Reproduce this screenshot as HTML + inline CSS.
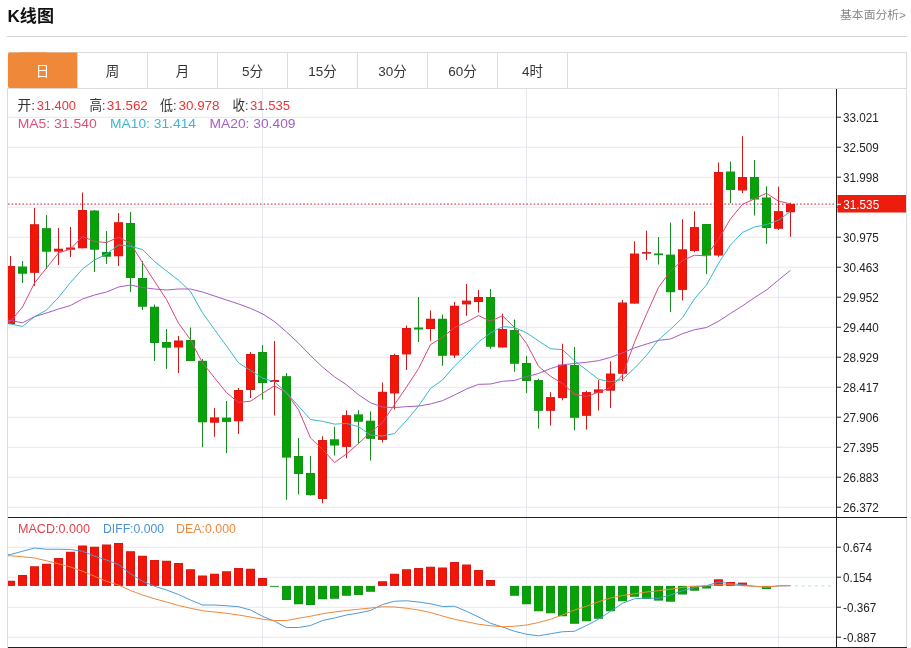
<!DOCTYPE html>
<html lang="zh-CN"><head><meta charset="utf-8"><title>K线图</title>
<style>html,body{margin:0;padding:0;background:#fff}svg{display:block}text{font-family:"Liberation Sans","Noto Sans CJK SC",sans-serif}</style></head><body>
<svg width="911" height="648" viewBox="0 0 911 648">
<rect width="911" height="648" fill="#fff"/>
<text x="7.5" y="22" font-size="17" font-weight="bold" fill="#111" textLength="46.5" lengthAdjust="spacingAndGlyphs">K线图</text>
<text x="840" y="19.2" font-size="11.4" fill="#888" textLength="66" lengthAdjust="spacingAndGlyphs">基本面分析&gt;</text>
<rect x="7" y="36" width="900" height="1" fill="#d4d4d4"/>
<rect x="8" y="52" width="899" height="1" fill="#dcdcdc"/>
<rect x="8" y="88" width="899" height="1" fill="#dcdcdc"/>
<rect x="7" y="88" width="1" height="560" fill="#dcdcdc"/>
<rect x="906" y="52" width="1" height="596" fill="#dcdcdc"/>
<rect x="7.9" y="52.5" width="40" height="35.6" rx="2.2" fill="#f0883a"/>
<rect x="20" y="52.5" width="57.3" height="35.6" fill="#f0883a"/>
<rect x="77" y="53" width="1" height="35" fill="#dcdcdc"/>
<rect x="147" y="53" width="1" height="35" fill="#dcdcdc"/>
<rect x="217" y="53" width="1" height="35" fill="#dcdcdc"/>
<rect x="287" y="53" width="1" height="35" fill="#dcdcdc"/>
<rect x="357" y="53" width="1" height="35" fill="#dcdcdc"/>
<rect x="427" y="53" width="1" height="35" fill="#dcdcdc"/>
<rect x="497" y="53" width="1" height="35" fill="#dcdcdc"/>
<rect x="567" y="53" width="1" height="35" fill="#dcdcdc"/>
<text x="42.5" y="75.6" font-size="13.5" text-anchor="middle" fill="#fff">日</text>
<text x="112.5" y="75.6" font-size="13.5" text-anchor="middle" fill="#333">周</text>
<text x="182.5" y="75.6" font-size="13.5" text-anchor="middle" fill="#333">月</text>
<text x="252.5" y="75.6" font-size="13.5" text-anchor="middle" fill="#333">5分</text>
<text x="322.5" y="75.6" font-size="13.5" text-anchor="middle" fill="#333">15分</text>
<text x="392.5" y="75.6" font-size="13.5" text-anchor="middle" fill="#333">30分</text>
<text x="462.5" y="75.6" font-size="13.5" text-anchor="middle" fill="#333">60分</text>
<text x="532.5" y="75.6" font-size="13.5" text-anchor="middle" fill="#333">4时</text>
<rect x="8" y="116.8" width="828" height="0.8" fill="#dfe2e6"/>
<rect x="8" y="146.8" width="828" height="0.8" fill="#dfe2e6"/>
<rect x="8" y="176.8" width="828" height="0.8" fill="#dfe2e6"/>
<rect x="8" y="206.8" width="828" height="0.8" fill="#dfe2e6"/>
<rect x="8" y="236.8" width="828" height="0.8" fill="#dfe2e6"/>
<rect x="8" y="266.8" width="828" height="0.8" fill="#dfe2e6"/>
<rect x="8" y="296.8" width="828" height="0.8" fill="#dfe2e6"/>
<rect x="8" y="326.8" width="828" height="0.8" fill="#dfe2e6"/>
<rect x="8" y="356.8" width="828" height="0.8" fill="#dfe2e6"/>
<rect x="8" y="386.8" width="828" height="0.8" fill="#dfe2e6"/>
<rect x="8" y="416.8" width="828" height="0.8" fill="#dfe2e6"/>
<rect x="8" y="446.8" width="828" height="0.8" fill="#dfe2e6"/>
<rect x="8" y="476.8" width="828" height="0.8" fill="#dfe2e6"/>
<rect x="8" y="506.8" width="828" height="0.8" fill="#dfe2e6"/>
<rect x="8" y="546.8" width="828" height="0.8" fill="#dfe2e6"/>
<rect x="8" y="576.8" width="828" height="0.8" fill="#dfe2e6"/>
<rect x="8" y="606.8" width="828" height="0.8" fill="#dfe2e6"/>
<rect x="8" y="636.8" width="828" height="0.8" fill="#dfe2e6"/>
<rect x="262.1" y="89" width="0.8" height="558" fill="#e0e4ec"/>
<rect x="526.1" y="89" width="0.8" height="558" fill="#e0e4ec"/>
<rect x="778.1" y="89" width="0.8" height="558" fill="#e0e4ec"/>
<text x="17.5" y="109.8" font-size="13.5" fill="#333" textLength="17.5" lengthAdjust="spacingAndGlyphs">开:</text>
<text x="36.7" y="109.8" font-size="13.5" fill="#e33" textLength="39.3" lengthAdjust="spacingAndGlyphs">31.400</text>
<text x="89.4" y="109.8" font-size="13.5" fill="#333" textLength="16" lengthAdjust="spacingAndGlyphs">高:</text>
<text x="106.8" y="109.8" font-size="13.5" fill="#e33" textLength="41" lengthAdjust="spacingAndGlyphs">31.562</text>
<text x="160" y="109.8" font-size="13.5" fill="#333" textLength="16.5" lengthAdjust="spacingAndGlyphs">低:</text>
<text x="178.5" y="109.8" font-size="13.5" fill="#e33" textLength="41" lengthAdjust="spacingAndGlyphs">30.978</text>
<text x="232.5" y="109.8" font-size="13.5" fill="#333" textLength="16" lengthAdjust="spacingAndGlyphs">收:</text>
<text x="250" y="109.8" font-size="13.5" fill="#e33" textLength="40" lengthAdjust="spacingAndGlyphs">31.535</text>
<text x="17.7" y="128.3" font-size="13.5" fill="#e0507a" textLength="79" lengthAdjust="spacingAndGlyphs">MA5: 31.540</text>
<text x="110" y="128.3" font-size="13.5" fill="#3bb8d0" textLength="86" lengthAdjust="spacingAndGlyphs">MA10: 31.414</text>
<text x="209.5" y="128.3" font-size="13.5" fill="#a35fc5" textLength="86" lengthAdjust="spacingAndGlyphs">MA20: 30.409</text>
<text x="18" y="532.8" font-size="13" fill="#e0434b" textLength="72" lengthAdjust="spacingAndGlyphs">MACD:0.000</text>
<text x="103" y="532.8" font-size="13" fill="#4a90d9" textLength="61" lengthAdjust="spacingAndGlyphs">DIFF:0.000</text>
<text x="176" y="532.8" font-size="13" fill="#f0883a" textLength="60" lengthAdjust="spacingAndGlyphs">DEA:0.000</text>
<defs><clipPath id="c"><rect x="8" y="89" width="828" height="558"/></clipPath></defs>
<g clip-path="url(#c)">
<line x1="8" y1="204.1" x2="836" y2="204.1" stroke="#d24e66" stroke-width="1.4" stroke-dasharray="1.6 2"/>
<rect x="10" y="256" width="1" height="68" fill="#d01818"/>
<rect x="6" y="266" width="9" height="58" fill="#d01818"/>
<rect x="6.6" y="266.6" width="7.8" height="56.8" fill="#f21608"/>
<rect x="22" y="261" width="1" height="22" fill="#168a1c"/>
<rect x="18" y="266.5" width="9" height="7.2" fill="#168a1c"/>
<rect x="18.6" y="267.1" width="7.8" height="6" fill="#08a208"/>
<rect x="34" y="208" width="1" height="78" fill="#d01818"/>
<rect x="30" y="224.25" width="9" height="48.55" fill="#d01818"/>
<rect x="30.6" y="224.85" width="7.8" height="47.35" fill="#f21608"/>
<rect x="46" y="215" width="1" height="54" fill="#168a1c"/>
<rect x="42" y="228.2" width="9" height="23.5" fill="#168a1c"/>
<rect x="42.6" y="228.8" width="7.8" height="22.3" fill="#08a208"/>
<rect x="58" y="228" width="1" height="37" fill="#d01818"/>
<rect x="54" y="248.7" width="9" height="2.9" fill="#d01818"/>
<rect x="54.6" y="249.3" width="7.8" height="1.7" fill="#f21608"/>
<rect x="70" y="227" width="1" height="30" fill="#d01818"/>
<rect x="66" y="247.5" width="9" height="2.2" fill="#d01818"/>
<rect x="66.6" y="248.1" width="7.8" height="1" fill="#f21608"/>
<rect x="82" y="192.5" width="1" height="55.8" fill="#d01818"/>
<rect x="78" y="210" width="9" height="38.3" fill="#d01818"/>
<rect x="78.6" y="210.6" width="7.8" height="37.1" fill="#f21608"/>
<rect x="94" y="210" width="1" height="62" fill="#168a1c"/>
<rect x="90" y="210.5" width="9" height="39.2" fill="#168a1c"/>
<rect x="90.6" y="211.1" width="7.8" height="38" fill="#08a208"/>
<rect x="106" y="231" width="1" height="33" fill="#168a1c"/>
<rect x="102" y="252" width="9" height="4.7" fill="#168a1c"/>
<rect x="102.6" y="252.6" width="7.8" height="3.5" fill="#08a208"/>
<rect x="118" y="213" width="1" height="53" fill="#d01818"/>
<rect x="114" y="222.2" width="9" height="34.1" fill="#d01818"/>
<rect x="114.6" y="222.8" width="7.8" height="32.9" fill="#f21608"/>
<rect x="130" y="212" width="1" height="80" fill="#168a1c"/>
<rect x="126" y="223" width="9" height="55" fill="#168a1c"/>
<rect x="126.6" y="223.6" width="7.8" height="53.8" fill="#08a208"/>
<rect x="142" y="261" width="1" height="49" fill="#168a1c"/>
<rect x="138" y="278" width="9" height="28.7" fill="#168a1c"/>
<rect x="138.6" y="278.6" width="7.8" height="27.5" fill="#08a208"/>
<rect x="154" y="304.5" width="1" height="56.5" fill="#168a1c"/>
<rect x="150" y="306.75" width="9" height="36.25" fill="#168a1c"/>
<rect x="150.6" y="307.35" width="7.8" height="35.05" fill="#08a208"/>
<rect x="166" y="329" width="1" height="40" fill="#168a1c"/>
<rect x="162" y="342" width="9" height="5.7" fill="#168a1c"/>
<rect x="162.6" y="342.6" width="7.8" height="4.5" fill="#08a208"/>
<rect x="178" y="336" width="1" height="37" fill="#d01818"/>
<rect x="174" y="340.5" width="9" height="7" fill="#d01818"/>
<rect x="174.6" y="341.1" width="7.8" height="5.8" fill="#f21608"/>
<rect x="190" y="327.5" width="1" height="33.5" fill="#168a1c"/>
<rect x="186" y="340" width="9" height="21" fill="#168a1c"/>
<rect x="186.6" y="340.6" width="7.8" height="19.8" fill="#08a208"/>
<rect x="202" y="359" width="1" height="88.3" fill="#168a1c"/>
<rect x="198" y="360.8" width="9" height="61.5" fill="#168a1c"/>
<rect x="198.6" y="361.4" width="7.8" height="60.3" fill="#08a208"/>
<rect x="214" y="408" width="1" height="28.8" fill="#d01818"/>
<rect x="210" y="417.4" width="9" height="5.3" fill="#d01818"/>
<rect x="210.6" y="418" width="7.8" height="4.1" fill="#f21608"/>
<rect x="226" y="401" width="1" height="52.1" fill="#168a1c"/>
<rect x="222" y="417.6" width="9" height="4.3" fill="#168a1c"/>
<rect x="222.6" y="418.2" width="7.8" height="3.1" fill="#08a208"/>
<rect x="238" y="388" width="1" height="45.9" fill="#d01818"/>
<rect x="234" y="390" width="9" height="31.3" fill="#d01818"/>
<rect x="234.6" y="390.6" width="7.8" height="30.1" fill="#f21608"/>
<rect x="250" y="352" width="1" height="46" fill="#d01818"/>
<rect x="246" y="354" width="9" height="36" fill="#d01818"/>
<rect x="246.6" y="354.6" width="7.8" height="34.8" fill="#f21608"/>
<rect x="262" y="345" width="1" height="54.5" fill="#168a1c"/>
<rect x="258" y="352" width="9" height="31" fill="#168a1c"/>
<rect x="258.6" y="352.6" width="7.8" height="29.8" fill="#08a208"/>
<rect x="274" y="341" width="1" height="74.5" fill="#d01818"/>
<rect x="270" y="380" width="9" height="2" fill="#d01818"/>
<rect x="270.6" y="380.6" width="7.8" height="0.8" fill="#f21608"/>
<rect x="286" y="373" width="1" height="126.7" fill="#168a1c"/>
<rect x="282" y="376.2" width="9" height="81.4" fill="#168a1c"/>
<rect x="282.6" y="376.8" width="7.8" height="80.2" fill="#08a208"/>
<rect x="298" y="438" width="1" height="56.4" fill="#168a1c"/>
<rect x="294" y="456" width="9" height="18" fill="#168a1c"/>
<rect x="294.6" y="456.6" width="7.8" height="16.8" fill="#08a208"/>
<rect x="310" y="456" width="1" height="39.6" fill="#168a1c"/>
<rect x="306" y="473" width="9" height="22.1" fill="#168a1c"/>
<rect x="306.6" y="473.6" width="7.8" height="20.9" fill="#08a208"/>
<rect x="322" y="436.3" width="1" height="67" fill="#d01818"/>
<rect x="318" y="440" width="9" height="59" fill="#d01818"/>
<rect x="318.6" y="440.6" width="7.8" height="57.8" fill="#f21608"/>
<rect x="334" y="426.8" width="1" height="28.6" fill="#168a1c"/>
<rect x="330" y="439.3" width="9" height="6.2" fill="#168a1c"/>
<rect x="330.6" y="439.9" width="7.8" height="5" fill="#08a208"/>
<rect x="346" y="410.4" width="1" height="47.8" fill="#d01818"/>
<rect x="342" y="415.2" width="9" height="31.7" fill="#d01818"/>
<rect x="342.6" y="415.8" width="7.8" height="30.5" fill="#f21608"/>
<rect x="358" y="410" width="1" height="33.8" fill="#168a1c"/>
<rect x="354" y="414.4" width="9" height="7.3" fill="#168a1c"/>
<rect x="354.6" y="415" width="7.8" height="6.1" fill="#08a208"/>
<rect x="370" y="411.4" width="1" height="49.1" fill="#168a1c"/>
<rect x="366" y="420.7" width="9" height="18.1" fill="#168a1c"/>
<rect x="366.6" y="421.3" width="7.8" height="16.9" fill="#08a208"/>
<rect x="382" y="382.4" width="1" height="60.1" fill="#d01818"/>
<rect x="378" y="391.8" width="9" height="48.1" fill="#d01818"/>
<rect x="378.6" y="392.4" width="7.8" height="46.9" fill="#f21608"/>
<rect x="394" y="353.75" width="1" height="55.75" fill="#d01818"/>
<rect x="390" y="355" width="9" height="38.4" fill="#d01818"/>
<rect x="390.6" y="355.6" width="7.8" height="37.2" fill="#f21608"/>
<rect x="406" y="325.5" width="1" height="44.5" fill="#d01818"/>
<rect x="402" y="328" width="9" height="26.4" fill="#d01818"/>
<rect x="402.6" y="328.6" width="7.8" height="25.2" fill="#f21608"/>
<rect x="418" y="297" width="1" height="45" fill="#168a1c"/>
<rect x="414" y="327.5" width="9" height="2" fill="#168a1c"/>
<rect x="414.6" y="328.1" width="7.8" height="0.8" fill="#08a208"/>
<rect x="430" y="310.5" width="1" height="30.25" fill="#d01818"/>
<rect x="426" y="318.75" width="9" height="10.25" fill="#d01818"/>
<rect x="426.6" y="319.35" width="7.8" height="9.05" fill="#f21608"/>
<rect x="442" y="314.5" width="1" height="51.25" fill="#168a1c"/>
<rect x="438" y="318.75" width="9" height="37" fill="#168a1c"/>
<rect x="438.6" y="319.35" width="7.8" height="35.8" fill="#08a208"/>
<rect x="454" y="302" width="1" height="56" fill="#d01818"/>
<rect x="450" y="305.75" width="9" height="49.75" fill="#d01818"/>
<rect x="450.6" y="306.35" width="7.8" height="48.55" fill="#f21608"/>
<rect x="466" y="284" width="1" height="31.75" fill="#d01818"/>
<rect x="462" y="300.6" width="9" height="3.8" fill="#d01818"/>
<rect x="462.6" y="301.2" width="7.8" height="2.6" fill="#f21608"/>
<rect x="478" y="290" width="1" height="22.5" fill="#d01818"/>
<rect x="474" y="297" width="9" height="5" fill="#d01818"/>
<rect x="474.6" y="297.6" width="7.8" height="3.8" fill="#f21608"/>
<rect x="490" y="289" width="1" height="59.75" fill="#168a1c"/>
<rect x="486" y="297" width="9" height="49.75" fill="#168a1c"/>
<rect x="486.6" y="297.6" width="7.8" height="48.55" fill="#08a208"/>
<rect x="502" y="313.75" width="1" height="33.75" fill="#d01818"/>
<rect x="498" y="329" width="9" height="18.5" fill="#d01818"/>
<rect x="498.6" y="329.6" width="7.8" height="17.3" fill="#f21608"/>
<rect x="514" y="319.5" width="1" height="52.25" fill="#168a1c"/>
<rect x="510" y="330" width="9" height="33.75" fill="#168a1c"/>
<rect x="510.6" y="330.6" width="7.8" height="32.55" fill="#08a208"/>
<rect x="526" y="356" width="1" height="37" fill="#168a1c"/>
<rect x="522" y="363" width="9" height="18" fill="#168a1c"/>
<rect x="522.6" y="363.6" width="7.8" height="16.8" fill="#08a208"/>
<rect x="538" y="378.75" width="1" height="49.85" fill="#168a1c"/>
<rect x="534" y="380.1" width="9" height="30.7" fill="#168a1c"/>
<rect x="534.6" y="380.7" width="7.8" height="29.5" fill="#08a208"/>
<rect x="550" y="392.2" width="1" height="33.4" fill="#d01818"/>
<rect x="546" y="397.1" width="9" height="13.7" fill="#d01818"/>
<rect x="546.6" y="397.7" width="7.8" height="12.5" fill="#f21608"/>
<rect x="562" y="343.8" width="1" height="56.5" fill="#d01818"/>
<rect x="558" y="364.6" width="9" height="33.5" fill="#d01818"/>
<rect x="558.6" y="365.2" width="7.8" height="32.3" fill="#f21608"/>
<rect x="574" y="347" width="1" height="83.4" fill="#168a1c"/>
<rect x="570" y="365" width="9" height="52.8" fill="#168a1c"/>
<rect x="570.6" y="365.6" width="7.8" height="51.6" fill="#08a208"/>
<rect x="586" y="390.75" width="1" height="38.85" fill="#d01818"/>
<rect x="582" y="392.1" width="9" height="23.7" fill="#d01818"/>
<rect x="582.6" y="392.7" width="7.8" height="22.5" fill="#f21608"/>
<rect x="598" y="380.1" width="1" height="30.4" fill="#d01818"/>
<rect x="594" y="389.4" width="9" height="3.4" fill="#d01818"/>
<rect x="594.6" y="390" width="7.8" height="2.2" fill="#f21608"/>
<rect x="610" y="361.3" width="1" height="46.7" fill="#d01818"/>
<rect x="606" y="373.5" width="9" height="17.2" fill="#d01818"/>
<rect x="606.6" y="374.1" width="7.8" height="16" fill="#f21608"/>
<rect x="622" y="300" width="1" height="81.25" fill="#d01818"/>
<rect x="618" y="302.5" width="9" height="71.25" fill="#d01818"/>
<rect x="618.6" y="303.1" width="7.8" height="70.05" fill="#f21608"/>
<rect x="634" y="241.25" width="1" height="62.35" fill="#d01818"/>
<rect x="630" y="253.5" width="9" height="50.1" fill="#d01818"/>
<rect x="630.6" y="254.1" width="7.8" height="48.9" fill="#f21608"/>
<rect x="646" y="230.75" width="1" height="29.25" fill="#d01818"/>
<rect x="642" y="252.1" width="9" height="1.6" fill="#d01818"/>
<rect x="658" y="237" width="1" height="27.5" fill="#168a1c"/>
<rect x="654" y="253.5" width="9" height="1.7" fill="#168a1c"/>
<rect x="654.6" y="254.1" width="7.8" height="0.5" fill="#08a208"/>
<rect x="670" y="222.5" width="1" height="89.4" fill="#168a1c"/>
<rect x="666" y="254.6" width="9" height="37.6" fill="#168a1c"/>
<rect x="666.6" y="255.2" width="7.8" height="36.4" fill="#08a208"/>
<rect x="682" y="219.25" width="1" height="81.15" fill="#d01818"/>
<rect x="678" y="249.3" width="9" height="40.6" fill="#d01818"/>
<rect x="678.6" y="249.9" width="7.8" height="39.4" fill="#f21608"/>
<rect x="694" y="211.25" width="1" height="40.95" fill="#d01818"/>
<rect x="690" y="227.1" width="9" height="23.8" fill="#d01818"/>
<rect x="690.6" y="227.7" width="7.8" height="22.6" fill="#f21608"/>
<rect x="706" y="224" width="1" height="50" fill="#168a1c"/>
<rect x="702" y="224" width="9" height="31.6" fill="#168a1c"/>
<rect x="702.6" y="224.6" width="7.8" height="30.4" fill="#08a208"/>
<rect x="718" y="162.5" width="1" height="94.25" fill="#d01818"/>
<rect x="714" y="172" width="9" height="83.5" fill="#d01818"/>
<rect x="714.6" y="172.6" width="7.8" height="82.3" fill="#f21608"/>
<rect x="730" y="161.5" width="1" height="41.75" fill="#168a1c"/>
<rect x="726" y="171.5" width="9" height="18.5" fill="#168a1c"/>
<rect x="726.6" y="172.1" width="7.8" height="17.3" fill="#08a208"/>
<rect x="742" y="136.25" width="1" height="56.75" fill="#d01818"/>
<rect x="738" y="177" width="9" height="13.5" fill="#d01818"/>
<rect x="738.6" y="177.6" width="7.8" height="12.3" fill="#f21608"/>
<rect x="754" y="160" width="1" height="55.5" fill="#168a1c"/>
<rect x="750" y="177" width="9" height="22.5" fill="#168a1c"/>
<rect x="750.6" y="177.6" width="7.8" height="21.3" fill="#08a208"/>
<rect x="766" y="186.25" width="1" height="57.5" fill="#168a1c"/>
<rect x="762" y="197.5" width="9" height="30.5" fill="#168a1c"/>
<rect x="762.6" y="198.1" width="7.8" height="29.3" fill="#08a208"/>
<rect x="778" y="186.75" width="1" height="43.25" fill="#d01818"/>
<rect x="774" y="211.2" width="9" height="17.55" fill="#d01818"/>
<rect x="774.6" y="211.8" width="7.8" height="16.35" fill="#f21608"/>
<rect x="790" y="202.6" width="1" height="34.2" fill="#d01818"/>
<rect x="786" y="203.9" width="9" height="8.4" fill="#d01818"/>
<rect x="786.6" y="204.5" width="7.8" height="7.2" fill="#f21608"/>
<polyline fill="none" stroke="#e0457b" stroke-width="1" stroke-linejoin="round" points="-1.5,322.5 10.5,321.50 22.5,307.00 34.5,283.00 46.5,268.00 58.5,252.87 70.5,249.17 82.5,236.43 94.5,241.52 106.5,242.52 118.5,237.22 130.5,243.32 142.5,262.66 154.5,281.32 166.5,299.52 178.5,323.18 190.5,339.78 202.5,362.90 214.5,377.78 226.5,392.62 238.5,402.52 250.5,401.12 262.5,393.26 274.5,385.78 286.5,392.92 298.5,409.72 310.5,437.94 322.5,449.34 334.5,462.44 346.5,453.96 358.5,443.50 370.5,432.24 382.5,422.60 394.5,404.50 406.5,387.06 418.5,368.62 430.5,344.61 442.5,337.40 454.5,327.55 466.5,322.07 478.5,315.57 490.5,321.17 502.5,315.82 514.5,327.42 526.5,343.50 538.5,366.26 550.5,376.33 562.5,383.45 574.5,394.26 586.5,396.48 598.5,392.20 610.5,387.48 622.5,375.06 634.5,342.20 646.5,314.20 658.5,287.36 670.5,271.10 682.5,260.46 694.5,255.18 706.5,255.88 718.5,239.24 730.5,218.80 742.5,204.34 754.5,198.82 766.5,193.30 778.5,201.14 790.5,203.92"/>
<polyline fill="none" stroke="#35b8d0" stroke-width="1" stroke-linejoin="round" points="-1.5,323 10.5,324.00 22.5,326.50 34.5,316.70 46.5,310.00 58.5,297.50 70.5,282.50 82.5,269.00 94.5,260.00 106.5,254.00 118.5,245.04 130.5,246.24 142.5,249.54 154.5,261.42 166.5,271.02 178.5,280.20 190.5,291.55 202.5,312.78 214.5,329.55 226.5,346.07 238.5,362.85 250.5,370.45 262.5,378.08 274.5,381.78 286.5,392.77 298.5,406.12 310.5,419.53 322.5,421.30 334.5,424.11 346.5,423.44 358.5,426.61 370.5,435.09 382.5,435.97 394.5,433.47 406.5,420.51 418.5,406.06 430.5,388.43 442.5,380.00 454.5,366.02 466.5,354.56 478.5,342.09 490.5,332.89 502.5,326.61 514.5,327.49 526.5,332.78 538.5,340.92 550.5,348.75 562.5,349.63 574.5,360.84 586.5,369.99 598.5,379.23 610.5,381.91 622.5,379.25 634.5,368.23 646.5,355.34 658.5,339.78 670.5,329.29 682.5,317.76 694.5,298.69 706.5,285.04 718.5,263.30 730.5,244.95 742.5,232.40 754.5,227.00 766.5,224.59 778.5,220.19 790.5,211.36"/>
<polyline fill="none" stroke="#a45cc4" stroke-width="1" stroke-linejoin="round" points="-1.5,319 10.5,320.50 22.5,322.80 34.5,316.70 46.5,313.00 58.5,309.00 70.5,305.50 82.5,299.00 94.5,295.00 106.5,292.00 118.5,287.00 130.5,285.00 142.5,287.50 154.5,289.00 166.5,290.00 178.5,289.00 190.5,289.00 202.5,292.00 214.5,296.00 226.5,300.00 238.5,303.95 250.5,308.35 262.5,313.81 274.5,321.60 286.5,331.89 298.5,343.16 310.5,355.54 322.5,367.04 334.5,376.83 346.5,384.75 358.5,394.73 370.5,402.77 382.5,407.02 394.5,407.62 406.5,406.64 418.5,406.09 430.5,403.98 442.5,400.65 454.5,395.07 466.5,389.00 478.5,384.35 490.5,383.99 502.5,381.29 514.5,380.48 526.5,376.65 538.5,373.49 550.5,368.59 562.5,364.82 574.5,363.43 586.5,362.28 598.5,360.66 610.5,357.40 622.5,352.93 634.5,347.86 646.5,344.06 658.5,340.35 670.5,339.02 682.5,333.70 694.5,329.76 706.5,327.51 718.5,321.26 730.5,313.43 742.5,305.83 754.5,297.62 766.5,289.97 778.5,279.99 790.5,270.32"/>
<line x1="795" y1="585.9" x2="835" y2="585.9" stroke="#a8dae6" stroke-width="0.9" stroke-dasharray="3 3.6"/>
<rect x="6" y="580.75" width="9" height="5.15" fill="#d01818"/>
<rect x="6.6" y="581.35" width="7.8" height="3.95" fill="#f21608"/>
<rect x="18" y="575" width="9" height="10.9" fill="#d01818"/>
<rect x="18.6" y="575.6" width="7.8" height="9.7" fill="#f21608"/>
<rect x="30" y="566.25" width="9" height="19.65" fill="#d01818"/>
<rect x="30.6" y="566.85" width="7.8" height="18.45" fill="#f21608"/>
<rect x="42" y="563.75" width="9" height="22.15" fill="#d01818"/>
<rect x="42.6" y="564.35" width="7.8" height="20.95" fill="#f21608"/>
<rect x="54" y="558" width="9" height="27.9" fill="#d01818"/>
<rect x="54.6" y="558.6" width="7.8" height="26.7" fill="#f21608"/>
<rect x="66" y="551.75" width="9" height="34.15" fill="#d01818"/>
<rect x="66.6" y="552.35" width="7.8" height="32.95" fill="#f21608"/>
<rect x="78" y="545.5" width="9" height="40.4" fill="#d01818"/>
<rect x="78.6" y="546.1" width="7.8" height="39.2" fill="#f21608"/>
<rect x="90" y="546.75" width="9" height="39.15" fill="#d01818"/>
<rect x="90.6" y="547.35" width="7.8" height="37.95" fill="#f21608"/>
<rect x="102" y="544.5" width="9" height="41.4" fill="#d01818"/>
<rect x="102.6" y="545.1" width="7.8" height="40.2" fill="#f21608"/>
<rect x="114" y="543" width="9" height="42.9" fill="#d01818"/>
<rect x="114.6" y="543.6" width="7.8" height="41.7" fill="#f21608"/>
<rect x="126" y="551.25" width="9" height="34.65" fill="#d01818"/>
<rect x="126.6" y="551.85" width="7.8" height="33.45" fill="#f21608"/>
<rect x="138" y="555.75" width="9" height="30.15" fill="#d01818"/>
<rect x="138.6" y="556.35" width="7.8" height="28.95" fill="#f21608"/>
<rect x="150" y="560" width="9" height="25.9" fill="#d01818"/>
<rect x="150.6" y="560.6" width="7.8" height="24.7" fill="#f21608"/>
<rect x="162" y="560.75" width="9" height="25.15" fill="#d01818"/>
<rect x="162.6" y="561.35" width="7.8" height="23.95" fill="#f21608"/>
<rect x="174" y="563" width="9" height="22.9" fill="#d01818"/>
<rect x="174.6" y="563.6" width="7.8" height="21.7" fill="#f21608"/>
<rect x="186" y="569.25" width="9" height="16.65" fill="#d01818"/>
<rect x="186.6" y="569.85" width="7.8" height="15.45" fill="#f21608"/>
<rect x="198" y="575.5" width="9" height="10.4" fill="#d01818"/>
<rect x="198.6" y="576.1" width="7.8" height="9.2" fill="#f21608"/>
<rect x="210" y="573.75" width="9" height="12.15" fill="#d01818"/>
<rect x="210.6" y="574.35" width="7.8" height="10.95" fill="#f21608"/>
<rect x="222" y="571.25" width="9" height="14.65" fill="#d01818"/>
<rect x="222.6" y="571.85" width="7.8" height="13.45" fill="#f21608"/>
<rect x="234" y="568" width="9" height="17.9" fill="#d01818"/>
<rect x="234.6" y="568.6" width="7.8" height="16.7" fill="#f21608"/>
<rect x="246" y="568.75" width="9" height="17.15" fill="#d01818"/>
<rect x="246.6" y="569.35" width="7.8" height="15.95" fill="#f21608"/>
<rect x="258" y="578" width="9" height="7.9" fill="#d01818"/>
<rect x="258.6" y="578.6" width="7.8" height="6.7" fill="#f21608"/>
<rect x="270" y="585.9" width="9" height="0.9" fill="#168a1c"/>
<rect x="282" y="585.9" width="9" height="14.1" fill="#168a1c"/>
<rect x="282.6" y="586.5" width="7.8" height="12.9" fill="#08a208"/>
<rect x="294" y="585.9" width="9" height="18.35" fill="#168a1c"/>
<rect x="294.6" y="586.5" width="7.8" height="17.15" fill="#08a208"/>
<rect x="306" y="585.9" width="9" height="19.1" fill="#168a1c"/>
<rect x="306.6" y="586.5" width="7.8" height="17.9" fill="#08a208"/>
<rect x="318" y="585.9" width="9" height="13.35" fill="#168a1c"/>
<rect x="318.6" y="586.5" width="7.8" height="12.15" fill="#08a208"/>
<rect x="330" y="585.9" width="9" height="12.85" fill="#168a1c"/>
<rect x="330.6" y="586.5" width="7.8" height="11.65" fill="#08a208"/>
<rect x="342" y="585.9" width="9" height="9.85" fill="#168a1c"/>
<rect x="342.6" y="586.5" width="7.8" height="8.65" fill="#08a208"/>
<rect x="354" y="585.9" width="9" height="9.1" fill="#168a1c"/>
<rect x="354.6" y="586.5" width="7.8" height="7.9" fill="#08a208"/>
<rect x="366" y="585.9" width="9" height="5.85" fill="#168a1c"/>
<rect x="366.6" y="586.5" width="7.8" height="4.65" fill="#08a208"/>
<rect x="378" y="581.25" width="9" height="4.65" fill="#d01818"/>
<rect x="378.6" y="581.85" width="7.8" height="3.45" fill="#f21608"/>
<rect x="390" y="573.75" width="9" height="12.15" fill="#d01818"/>
<rect x="390.6" y="574.35" width="7.8" height="10.95" fill="#f21608"/>
<rect x="402" y="569.25" width="9" height="16.65" fill="#d01818"/>
<rect x="402.6" y="569.85" width="7.8" height="15.45" fill="#f21608"/>
<rect x="414" y="568" width="9" height="17.9" fill="#d01818"/>
<rect x="414.6" y="568.6" width="7.8" height="16.7" fill="#f21608"/>
<rect x="426" y="566.75" width="9" height="19.15" fill="#d01818"/>
<rect x="426.6" y="567.35" width="7.8" height="17.95" fill="#f21608"/>
<rect x="438" y="567.5" width="9" height="18.4" fill="#d01818"/>
<rect x="438.6" y="568.1" width="7.8" height="17.2" fill="#f21608"/>
<rect x="450" y="562" width="9" height="23.9" fill="#d01818"/>
<rect x="450.6" y="562.6" width="7.8" height="22.7" fill="#f21608"/>
<rect x="462" y="564.5" width="9" height="21.4" fill="#d01818"/>
<rect x="462.6" y="565.1" width="7.8" height="20.2" fill="#f21608"/>
<rect x="474" y="570" width="9" height="15.9" fill="#d01818"/>
<rect x="474.6" y="570.6" width="7.8" height="14.7" fill="#f21608"/>
<rect x="486" y="580" width="9" height="5.9" fill="#d01818"/>
<rect x="486.6" y="580.6" width="7.8" height="4.7" fill="#f21608"/>
<rect x="510" y="585.9" width="9" height="9.85" fill="#168a1c"/>
<rect x="510.6" y="586.5" width="7.8" height="8.65" fill="#08a208"/>
<rect x="522" y="585.9" width="9" height="18.35" fill="#168a1c"/>
<rect x="522.6" y="586.5" width="7.8" height="17.15" fill="#08a208"/>
<rect x="534" y="585.9" width="9" height="25.35" fill="#168a1c"/>
<rect x="534.6" y="586.5" width="7.8" height="24.15" fill="#08a208"/>
<rect x="546" y="585.9" width="9" height="27.35" fill="#168a1c"/>
<rect x="546.6" y="586.5" width="7.8" height="26.15" fill="#08a208"/>
<rect x="558" y="585.9" width="9" height="30.35" fill="#168a1c"/>
<rect x="558.6" y="586.5" width="7.8" height="29.15" fill="#08a208"/>
<rect x="570" y="585.9" width="9" height="37.85" fill="#168a1c"/>
<rect x="570.6" y="586.5" width="7.8" height="36.65" fill="#08a208"/>
<rect x="582" y="585.9" width="9" height="35.35" fill="#168a1c"/>
<rect x="582.6" y="586.5" width="7.8" height="34.15" fill="#08a208"/>
<rect x="594" y="585.9" width="9" height="32.85" fill="#168a1c"/>
<rect x="594.6" y="586.5" width="7.8" height="31.65" fill="#08a208"/>
<rect x="606" y="585.9" width="9" height="25.35" fill="#168a1c"/>
<rect x="606.6" y="586.5" width="7.8" height="24.15" fill="#08a208"/>
<rect x="618" y="585.9" width="9" height="15.35" fill="#168a1c"/>
<rect x="618.6" y="586.5" width="7.8" height="14.15" fill="#08a208"/>
<rect x="630" y="585.9" width="9" height="10.85" fill="#168a1c"/>
<rect x="630.6" y="586.5" width="7.8" height="9.65" fill="#08a208"/>
<rect x="642" y="585.9" width="9" height="13.1" fill="#168a1c"/>
<rect x="642.6" y="586.5" width="7.8" height="11.9" fill="#08a208"/>
<rect x="654" y="585.9" width="9" height="14.7" fill="#168a1c"/>
<rect x="654.6" y="586.5" width="7.8" height="13.5" fill="#08a208"/>
<rect x="666" y="585.9" width="9" height="15.8" fill="#168a1c"/>
<rect x="666.6" y="586.5" width="7.8" height="14.6" fill="#08a208"/>
<rect x="678" y="585.9" width="9" height="8.6" fill="#168a1c"/>
<rect x="678.6" y="586.5" width="7.8" height="7.4" fill="#08a208"/>
<rect x="690" y="585.9" width="9" height="4.8" fill="#168a1c"/>
<rect x="690.6" y="586.5" width="7.8" height="3.6" fill="#08a208"/>
<rect x="702" y="585.9" width="9" height="2.6" fill="#168a1c"/>
<rect x="702.6" y="586.5" width="7.8" height="1.4" fill="#08a208"/>
<rect x="714" y="579.3" width="9" height="6.6" fill="#d01818"/>
<rect x="714.6" y="579.9" width="7.8" height="5.4" fill="#f21608"/>
<rect x="726" y="582" width="9" height="3.9" fill="#d01818"/>
<rect x="726.6" y="582.6" width="7.8" height="2.7" fill="#f21608"/>
<rect x="738" y="582.6" width="9" height="3.3" fill="#d01818"/>
<rect x="738.6" y="583.2" width="7.8" height="2.1" fill="#f21608"/>
<rect x="762" y="585.9" width="9" height="3.1" fill="#168a1c"/>
<rect x="762.6" y="586.5" width="7.8" height="1.9" fill="#08a208"/>
<polyline fill="none" stroke="#4b9bdc" stroke-width="1" stroke-linejoin="round" points="-1.5,555.3 10.5,554.50 22.5,551.25 34.5,548.00 46.5,549.25 58.5,549.25 70.5,549.50 82.5,551.25 94.5,556.25 106.5,560.00 118.5,564.50 130.5,573.75 142.5,581.25 154.5,586.25 166.5,590.00 178.5,594.50 190.5,600.00 202.5,605.00 214.5,605.00 226.5,605.75 238.5,606.75 250.5,610.00 262.5,616.25 274.5,621.25 286.5,627.50 298.5,627.50 310.5,625.50 322.5,620.50 334.5,618.00 346.5,615.00 358.5,613.00 370.5,610.50 382.5,604.50 394.5,601.25 406.5,600.75 418.5,602.00 430.5,603.75 442.5,606.50 454.5,606.25 466.5,611.25 478.5,617.00 490.5,623.25 502.5,627.00 514.5,631.25 526.5,634.25 538.5,635.75 550.5,633.75 562.5,631.75 574.5,631.25 586.5,625.50 598.5,619.25 610.5,611.25 622.5,603.25 634.5,598.75 646.5,598.00 658.5,598.40 670.5,595.00 682.5,590.70 694.5,587.40 706.5,585.70 718.5,582.00 730.5,583.70 742.5,584.80 754.5,586.30 766.5,587.40 778.5,585.90 790.5,585.70"/>
<polyline fill="none" stroke="#f0883a" stroke-width="1" stroke-linejoin="round" points="-1.5,555.45 10.5,555.75 22.5,556.75 34.5,558.00 46.5,560.75 58.5,563.75 70.5,567.00 82.5,571.25 94.5,576.25 106.5,581.25 118.5,585.00 130.5,590.50 142.5,595.00 154.5,598.75 166.5,602.00 178.5,605.50 190.5,608.25 202.5,610.75 214.5,612.00 226.5,613.25 238.5,615.00 250.5,617.00 262.5,619.25 274.5,620.50 286.5,620.50 298.5,618.25 310.5,616.25 322.5,613.75 334.5,612.00 346.5,610.50 358.5,609.25 370.5,608.00 382.5,606.75 394.5,607.00 406.5,608.25 418.5,610.00 430.5,612.50 442.5,616.00 454.5,619.25 466.5,621.75 478.5,624.25 490.5,625.75 502.5,626.75 514.5,626.25 526.5,625.00 538.5,622.50 550.5,619.25 562.5,615.00 574.5,610.00 586.5,606.25 598.5,601.75 610.5,598.00 622.5,595.50 634.5,593.75 646.5,592.00 658.5,590.70 670.5,589.20 682.5,587.40 694.5,586.30 706.5,585.70 718.5,584.80 730.5,584.80 742.5,585.70 754.5,586.30 766.5,586.80 778.5,585.90 790.5,585.70"/>
</g>
<rect x="836" y="89" width="1" height="559" fill="#222"/>
<rect x="8" y="517" width="899" height="1" fill="#222"/>
<rect x="8" y="647" width="899" height="1" fill="#222"/>
<rect x="837" y="116.7" width="4" height="1" fill="#222"/>
<text x="843" y="121.7" font-size="12.6" fill="#222" textLength="35.8" lengthAdjust="spacingAndGlyphs">33.021</text>
<rect x="837" y="146.7" width="4" height="1" fill="#222"/>
<text x="843" y="151.7" font-size="12.6" fill="#222" textLength="35.8" lengthAdjust="spacingAndGlyphs">32.509</text>
<rect x="837" y="176.7" width="4" height="1" fill="#222"/>
<text x="843" y="181.7" font-size="12.6" fill="#222" textLength="35.8" lengthAdjust="spacingAndGlyphs">31.998</text>
<rect x="837" y="206.7" width="4" height="1" fill="#222"/>
<rect x="837" y="236.7" width="4" height="1" fill="#222"/>
<text x="843" y="241.7" font-size="12.6" fill="#222" textLength="35.8" lengthAdjust="spacingAndGlyphs">30.975</text>
<rect x="837" y="266.7" width="4" height="1" fill="#222"/>
<text x="843" y="271.7" font-size="12.6" fill="#222" textLength="35.8" lengthAdjust="spacingAndGlyphs">30.463</text>
<rect x="837" y="296.7" width="4" height="1" fill="#222"/>
<text x="843" y="301.7" font-size="12.6" fill="#222" textLength="35.8" lengthAdjust="spacingAndGlyphs">29.952</text>
<rect x="837" y="326.7" width="4" height="1" fill="#222"/>
<text x="843" y="331.7" font-size="12.6" fill="#222" textLength="35.8" lengthAdjust="spacingAndGlyphs">29.440</text>
<rect x="837" y="356.7" width="4" height="1" fill="#222"/>
<text x="843" y="361.7" font-size="12.6" fill="#222" textLength="35.8" lengthAdjust="spacingAndGlyphs">28.929</text>
<rect x="837" y="386.7" width="4" height="1" fill="#222"/>
<text x="843" y="391.7" font-size="12.6" fill="#222" textLength="35.8" lengthAdjust="spacingAndGlyphs">28.417</text>
<rect x="837" y="416.7" width="4" height="1" fill="#222"/>
<text x="843" y="421.7" font-size="12.6" fill="#222" textLength="35.8" lengthAdjust="spacingAndGlyphs">27.906</text>
<rect x="837" y="446.7" width="4" height="1" fill="#222"/>
<text x="843" y="451.7" font-size="12.6" fill="#222" textLength="35.8" lengthAdjust="spacingAndGlyphs">27.395</text>
<rect x="837" y="476.7" width="4" height="1" fill="#222"/>
<text x="843" y="481.7" font-size="12.6" fill="#222" textLength="35.8" lengthAdjust="spacingAndGlyphs">26.883</text>
<rect x="837" y="506.7" width="4" height="1" fill="#222"/>
<text x="843" y="511.7" font-size="12.6" fill="#222" textLength="35.8" lengthAdjust="spacingAndGlyphs">26.372</text>
<rect x="837" y="546.7" width="4" height="1" fill="#222"/>
<text x="843" y="551.5" font-size="12.6" fill="#222" textLength="29" lengthAdjust="spacingAndGlyphs">0.674</text>
<rect x="837" y="576.7" width="4" height="1" fill="#222"/>
<text x="843" y="581.5" font-size="12.6" fill="#222" textLength="29" lengthAdjust="spacingAndGlyphs">0.154</text>
<rect x="837" y="606.7" width="4" height="1" fill="#222"/>
<text x="843" y="611.5" font-size="12.6" fill="#222" textLength="33.2" lengthAdjust="spacingAndGlyphs">-0.367</text>
<rect x="837" y="636.7" width="4" height="1" fill="#222"/>
<text x="843" y="641.5" font-size="12.6" fill="#222" textLength="33.2" lengthAdjust="spacingAndGlyphs">-0.887</text>
<rect x="837.5" y="195" width="68.5" height="17.5" fill="#ee1c0c"/>
<rect x="837" y="203.8" width="4" height="1" fill="#fff"/>
<text x="843.2" y="208.5" font-size="12.6" fill="#fff" textLength="36" lengthAdjust="spacingAndGlyphs">31.535</text>
</svg></body></html>
